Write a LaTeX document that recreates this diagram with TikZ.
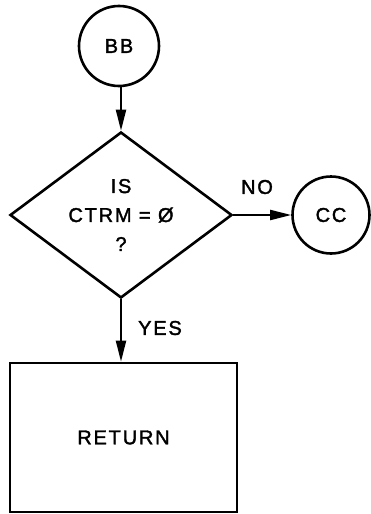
\documentclass[tikz,border=0pt]{standalone}
\usepackage{fontspec}
\setmainfont{Liberation Sans}[LetterSpace=9,FakeBold=1.8]
\usetikzlibrary{shapes.geometric,arrows.meta}
\begin{document}
\begin{tikzpicture}[x=1pt,y=-1pt,line width=2.6pt,
  font=\fontsize{20}{29}\selectfont,
  conn/.style={line width=2pt,-{Triangle[length=21pt,width=10pt]}},
  term/.style={circle,draw,minimum size=80pt,inner sep=0pt},
  dec/.style={diamond,draw,minimum width=222pt,minimum height=166pt,inner sep=0pt},
  proc/.style={rectangle,draw,minimum width=227pt,minimum height=149pt,inner sep=0pt},
  lbl/.style={inner sep=0pt,align=center}]
\useasboundingbox (0,0) rectangle (371,514);
\node[term] (bb) at (119,46) {BB};
\node[dec] (d) at (121,215) {};
\node[lbl] (dt) at (d.center) {IS\\CTRM = Ø\\?};
\node[term,minimum size=77pt] (cc) at (331,215) {CC};
\node[proc] (r) at (123.5,437.5) {RETURN};
\node[lbl] (no) at (257,187) {NO};
\node[lbl] (yes) at (160,328) {YES};
\draw[conn] (d.north |- bb.south) -- (d.north);
\draw[conn] (d.east) -- (cc.west);
\draw[conn] (d.south) -- (d.south |- r.north);
\end{tikzpicture}
\end{document}
